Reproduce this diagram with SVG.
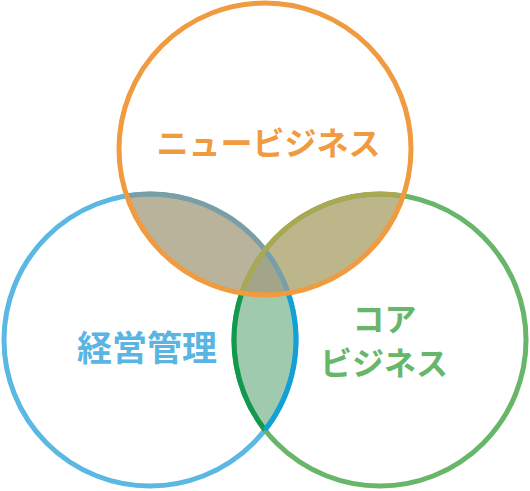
<svg xmlns="http://www.w3.org/2000/svg" width="530" height="491" viewBox="0 0 530 491">
<style>
.ring{fill:none;stroke-width:5}
.lbl{font-family:"Noto Sans CJK JP","Noto Sans",sans-serif;font-weight:bold;text-anchor:middle}
.arc{fill:none;stroke-width:5}
</style>
<rect width="530" height="491" fill="#ffffff"/>
<g id="overlaps">
<path d="M126.73,195.87 A146,146 0 0 0 241.73,293.13 A146,146 0 0 1 265,250.05 A146,146 0 0 0 126.73,195.87 Z" fill="#b9b39b"/>
<path d="M403.27,195.87 A146,146 0 0 1 288.27,293.13 A146,146 0 0 0 265,250.05 A146,146 0 0 1 403.27,195.87 Z" fill="#bdb68b"/>
<path d="M241.73,293.13 A146,146 0 0 0 265,429.95 A146,146 0 0 0 288.27,293.13 A146,146 0 0 1 241.73,293.13 Z" fill="#9fcaae"/>
<path d="M265,250.05 A146,146 0 0 0 241.73,293.13 A146,146 0 0 0 288.27,293.13 A146,146 0 0 0 265,250.05 Z" fill="#a2a589"/>
</g>
<g id="keiei-kanri">
<circle class="ring" cx="150" cy="340" r="146" stroke="#5bb8e2"/>
<text class="lbl" x="147" y="361" font-size="35" fill="#5ab5e2">経営管理</text>
</g>
<g id="core-business">
<circle class="ring" cx="380" cy="340" r="146" stroke="#68b66a"/>
<text class="lbl" x="384.5" y="331" font-size="32" fill="#68b66a">コア</text>
<text class="lbl" x="384" y="375" font-size="32" fill="#68b66a">ビジネス</text>
</g>
<g id="connectors">
<path class="arc" d="M126.73,195.87 A146,146 0 0 1 288.27,293.13" stroke="#7a9ea4"/>
<path class="arc" d="M241.73,293.13 A146,146 0 0 1 403.27,195.87" stroke="#aaa851"/>
<path class="arc" d="M241.73,293.13 A146,146 0 0 0 265,429.95" stroke="#13994f"/>
<path class="arc" d="M265,429.95 A146,146 0 0 0 288.27,293.13" stroke="#12a0d6"/>
</g>
<g id="new-business">
<circle class="ring" cx="265" cy="149" r="146" stroke="#f09b3f"/>
<text class="lbl" x="268.5" y="155" font-size="32" fill="#f09b3f">ニュービジネス</text>
</g>
</svg>
